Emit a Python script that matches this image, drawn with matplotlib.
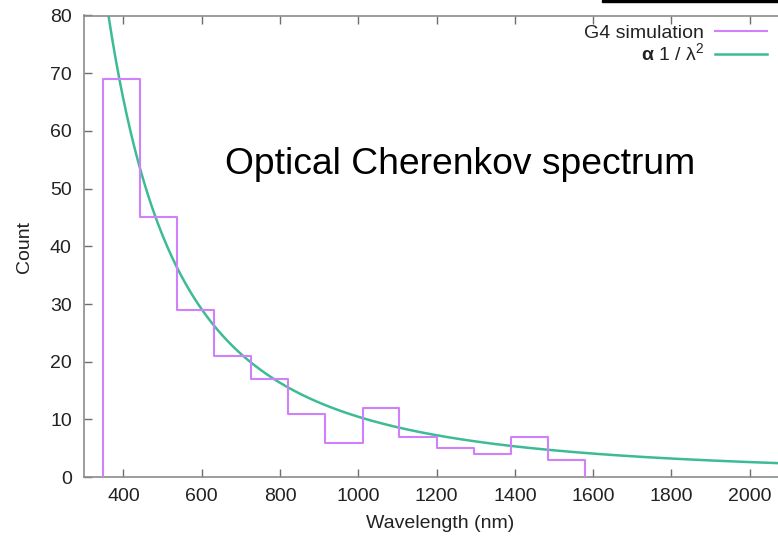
import numpy as np
import matplotlib
matplotlib.use("Agg")
import matplotlib.pyplot as plt
from matplotlib.patches import Rectangle

plt.rcParams['font.family'] = ['Liberation Sans', 'DejaVu Sans']
plt.rcParams['mathtext.fontset'] = 'custom'
plt.rcParams['mathtext.rm'] = 'Liberation Sans'
plt.rcParams['mathtext.it'] = 'Liberation Sans'
plt.rcParams['mathtext.bf'] = 'Liberation Sans:bold'

# Histogram of simulated Cherenkov photon wavelengths (nm)
bin_edges = [347, 442, 537, 632, 726, 821, 916, 1011, 1105, 1200, 1295, 1389, 1484, 1579]
counts = [69, 45, 29, 21, 17, 11, 6, 12, 7, 5, 4, 7, 3]

# Reference curve: A / lambda^2
curve_scale = 1.047e7
x_ticks = [400, 600, 800, 1000, 1200, 1400, 1600, 1800, 2000]
y_ticks = [0, 10, 20, 30, 40, 50, 60, 70, 80]

W, H = 778, 539
fig = plt.figure(figsize=(W / 100, H / 100), dpi=100)
ax_left, ax_right, ax_top, ax_bottom = 84.3, 788.9, 15.5, 477.2
ax = fig.add_axes([ax_left / W, 1 - ax_bottom / H,
                   (ax_right - ax_left) / W, (ax_bottom - ax_top) / H])

hist_color = '#cf80fa'
curve_color = '#3dbb96'
text_color = '#222222'
fs = 14

# step outline of the histogram
xs = [bin_edges[0]]
ys = [0]
for i, c in enumerate(counts):
    xs += [bin_edges[i], bin_edges[i + 1]]
    ys += [c, c]
xs.append(bin_edges[-1])
ys.append(0)
ax.plot(xs, ys, color=hist_color, lw=1.5, label='G4 simulation', zorder=3)

lam = np.linspace(300, 2100, 800)
ax.plot(lam, curve_scale / lam**2, color=curve_color, lw=1.8,
        label=r'$\mathbf{α}$ 1 / λ$^{2}$', zorder=2)

ax.set_xlim(300, 2100)
ax.set_ylim(0, 80)
ax.set_xticks(x_ticks)
ax.set_yticks(y_ticks)

spine_color = '#8c8c8c'
for s in ax.spines.values():
    s.set_color(spine_color)
    s.set_linewidth(1.2)
ax.tick_params(direction='in', length=6, width=1.0, color='#6e6e6e',
               top=True, right=True, labelsize=fs, labelcolor=text_color)
ax.tick_params(axis='x', pad=8)
ax.tick_params(axis='y', pad=9)

fig.text(25 / W, 1 - 247 / H, 'Count', rotation=90, ha='center', va='center',
         fontsize=fs, color=text_color)
fig.text(440 / W, 1 - 523 / H, 'Wavelength (nm)', ha='center', va='center',
         fontsize=fs, color=text_color)

fig.text(225 / W, 1 - 164 / H, 'Optical Cherenkov spectrum', ha='left',
         va='center', fontsize=26.8, color='black')

leg = ax.legend(loc='upper right', bbox_to_anchor=(767 / W, 1 - 24 / H),
                bbox_transform=fig.transFigure, frameon=False, markerfirst=False,
                fontsize=fs, handlelength=2.65, handletextpad=0.6,
                labelspacing=0.05, borderpad=0, borderaxespad=0)
for t in leg.get_texts():
    t.set_ha('right')
    t.set_color(text_color)

# dark strip along the top-right edge
fig.patches.append(Rectangle((602 / W, 1 - 2 / H), (W - 602) / W, 2 / H,
                             transform=fig.transFigure, color='black'))

fig.savefig('out.png', dpi=100)
